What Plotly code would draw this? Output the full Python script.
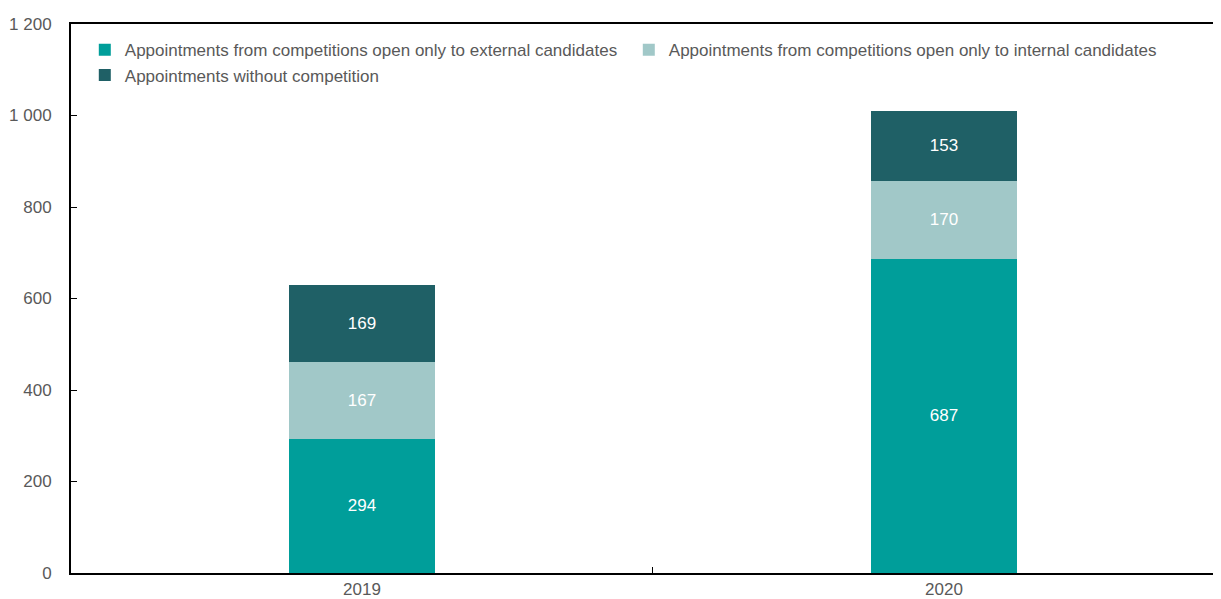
import plotly.graph_objects as go

years = ["2019", "2020"]
external = [294, 687]
internal = [167, 170]
without = [169, 153]
series_names = [
    "Appointments from competitions open only to external candidates",
    "Appointments from competitions open only to internal candidates",
    "Appointments without competition",
]
colors = ["#009E9A", "#A1C8C8", "#1F6066"]
y_tickvals = [0, 200, 400, 600, 800, 1000, 1200]
y_ticktext = ["0", "200", "400", "600", "800", "1 000", "1 200"]

FONT = "Liberation Sans, Arial, sans-serif"
FS = 17

fig = go.Figure()
for name, vals, col in zip(series_names, [external, internal, without], colors):
    fig.add_trace(go.Bar(
        x=years, y=vals, name=name, marker=dict(color=col, line=dict(width=0)),
        width=0.25, text=[str(v) for v in vals], textposition="inside",
        insidetextanchor="middle", textfont=dict(color="white", size=FS, family=FONT),
    ))

# page body has an 8px margin, so the figure is sized/offset accordingly
fig.update_layout(
    barmode="stack",
    width=1213, height=591,
    margin=dict(l=63, r=0, t=16, b=26, autoexpand=False),
    paper_bgcolor="white", plot_bgcolor="white",
    font=dict(family=FONT, size=FS, color="#595959"),
    showlegend=True,
    legend=dict(
        orientation="h", x=0.012, y=0.985, xanchor="left", yanchor="top",
        entrywidth=499, entrywidthmode="pixels",
        font=dict(family=FONT, size=FS, color="#595959"),
        itemwidth=30, traceorder="normal", bgcolor="rgba(0,0,0,0)",
    ),
)
fig.update_xaxes(
    range=[-0.5, 1.476], showline=True, linecolor="black", linewidth=2,
    mirror=True, ticks="inside", tickson="boundaries", ticklen=6,
    tickcolor="black", tickwidth=1, showgrid=False, automargin=False,
    ticklabelstandoff=0,
    tickfont=dict(family=FONT, size=FS, color="#595959"),
)
fig.update_yaxes(
    range=[0, 1200], tickvals=y_tickvals, ticktext=y_ticktext,
    showline=True, linecolor="black", linewidth=2, ticks="inside", ticklen=6,
    tickcolor="black", showgrid=False, zeroline=False, automargin=False,
    ticklabelstandoff=14,
    tickfont=dict(family=FONT, size=FS, color="#595959"),
)

fig.write_html("out.html")
